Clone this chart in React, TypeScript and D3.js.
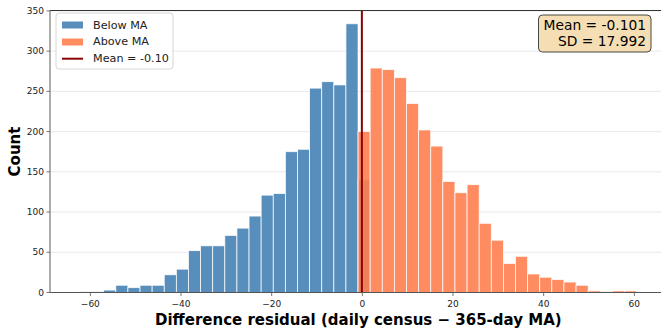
import React from "react";
import * as d3 from "d3";

const binStart = -62.4;
const binWidth = 2.672;
// counts for bins 0..23 (below MA) and 23..45 (above MA)
const belowCounts = [1, 1, 3, 9, 6, 9, 9, 22, 29, 52, 58, 58, 71, 80, 95, 121, 123, 175, 178, 254, 262, 258, 334, 140];
const belowStartBin = 0;
const aboveCounts = [200, 279, 277, 267, 235, 202, 182, 138, 124, 134, 86, 65, 36, 45, 23, 19, 16, 13, 9, 2, 1, 2, 2];
const aboveStartBin = 23;
const meanValue = -0.101;
const sdValue = 17.992;
const xTicks = [-60, -40, -20, 0, 20, 40, 60];
const yTicks = [0, 50, 100, 150, 200, 250, 300, 350];
const legendLabels = ["Below MA", "Above MA", "Mean = -0.10"];

const W = 661;
const H = 330;
const FONT = "DejaVu Sans, sans-serif";
const BLUE = "steelblue";
const ORANGE = "coral";

export default function App() {
  const x = d3.scaleLinear().domain([-68.9, 67.1]).range([50, 666.5]);
  const y = d3.scaleLinear().domain([0, 350.5]).range([292.5, 10.5]);
  const fmt = (v: number) => (v < 0 ? "\u2212" + Math.abs(v) : String(v));

  const bars = (counts: number[], start: number, color: string, key: string) =>
    counts.map((c, i) => {
      const x0 = binStart + (start + i) * binWidth;
      const x1 = x0 + binWidth;
      return (
        <rect
          key={key + i}
          x={x(x0)}
          y={y(c)}
          width={x(x1) - x(x0)}
          height={y(0) - y(c)}
          fill={color}
          fillOpacity={0.9}
          stroke="white"
          strokeOpacity={0.9}
          strokeWidth={0.8}
        />
      );
    });

  return (
    <svg width={W} height={H} style={{ position: "absolute", left: 0, top: 0, fontFamily: FONT }}>
      <rect x={0} y={0} width={W} height={H} fill="white" />
      {/* grid */}
      {yTicks.map((t) => (
        <line key={"g" + t} x1={50} x2={666.5} y1={y(t)} y2={y(t)} stroke="#b0b0b0" strokeOpacity={0.35} strokeWidth={0.8} />
      ))}
      {bars(belowCounts, belowStartBin, BLUE, "b")}
      {bars(aboveCounts, aboveStartBin, ORANGE, "a")}
      {/* mean line */}
      <line x1={x(meanValue)} x2={x(meanValue)} y1={10.5} y2={292.5} stroke="darkred" strokeWidth={2} />
      {/* spines */}
      <line x1={50} x2={666.5} y1={10.5} y2={10.5} stroke="#333" strokeWidth={1} />
      <line x1={50} x2={50} y1={10.5} y2={292.5} stroke="#777" strokeWidth={1.2} />
      <line x1={50} x2={666.5} y1={292.5} y2={292.5} stroke="#555" strokeWidth={1.2} />
      {/* y ticks */}
      {yTicks.map((t) => (
        <g key={"yt" + t}>
          <line x1={46.5} x2={50} y1={y(t)} y2={y(t)} stroke="#555" strokeWidth={0.8} />
          <text x={44} y={y(t)} textAnchor="end" dominantBaseline="central" fontSize={9} fill="#222">
            {t}
          </text>
        </g>
      ))}
      {/* x ticks */}
      {xTicks.map((t) => (
        <g key={"xt" + t}>
          <line x1={x(t)} x2={x(t)} y1={292.5} y2={296} stroke="#555" strokeWidth={0.8} />
          <text x={x(t)} y={304} textAnchor="middle" dominantBaseline="central" fontSize={9} fill="#222">
            {fmt(t)}
          </text>
        </g>
      ))}
      {/* axis labels */}
      <text x={358.3} y={320} textAnchor="middle" dominantBaseline="central" fontSize={15} fontWeight="bold" fill="#000">
        Difference residual (daily census − 365-day MA)
      </text>
      <text
        transform={`translate(15,151.5) rotate(-90)`}
        textAnchor="middle"
        dominantBaseline="central"
        fontSize={15}
        fontWeight="bold"
        fill="#000"
      >
        Count
      </text>
      {/* legend */}
      <rect x={56} y={13} width={117} height={56} rx={3} fill="white" fillOpacity={0.85} stroke="#cccccc" strokeWidth={0.8} />
      <rect x={62} y={21.5} width={21} height={7} fill={BLUE} fillOpacity={0.9} />
      <rect x={62} y={38.5} width={21} height={7} fill={ORANGE} fillOpacity={0.9} />
      <line x1={62} x2={83} y1={58.7} y2={58.7} stroke="darkred" strokeWidth={2} />
      {legendLabels.map((l, i) => (
        <text key={"l" + i} x={93} y={25 + i * 16.8} dominantBaseline="central" fontSize={11.2} fill="#222">
          {l}
        </text>
      ))}
      {/* stats box */}
      <rect x={538.5} y={15} width={112.5} height={37} rx={4} fill="wheat" stroke="#333" strokeWidth={0.9} />
      <text x={646} y={24.5} textAnchor="end" dominantBaseline="central" fontSize={13.8} fill="#000">
        {`Mean = ${meanValue.toFixed(3)}`}
      </text>
      <text x={646} y={41} textAnchor="end" dominantBaseline="central" fontSize={13.8} fill="#000">
        {`SD = ${sdValue.toFixed(3)}`}
      </text>
    </svg>
  );
}
